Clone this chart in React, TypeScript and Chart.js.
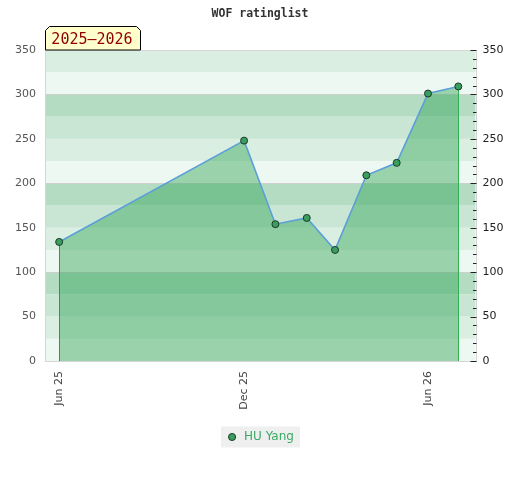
import React, { useEffect, useRef } from "react";
import { Chart, registerables } from "chart.js";

Chart.register(...registerables);

const TITLE = "WOF ratinglist";
const SEASON_LABEL = "2025–2026";
const SERIES_NAME = "HU Yang";
const DATES = [
  "2025-06-01",
  "2025-12-01",
  "2026-01-01",
  "2026-02-01",
  "2026-03-01",
  "2026-04-01",
  "2026-05-01",
  "2026-06-01",
  "2026-07-01",
];
const RATINGS = [134, 248, 154, 161, 125, 209, 223, 301, 309];
const TICK_DATES = ["2025-06-01", "2025-12-01", "2026-06-01"];
const TICK_LABELS = ["Jun 25", "Dec 25", "Jun 26"];
const X_RANGE = ["2025-05-18", "2026-07-18"];
const Y_MIN = 0;
const Y_MAX = 350;
const Y_STEP = 50;
const MINOR_STEP = 10;
const BAND_STEP = 25;
const BAND_COLORS = ["#eef8f2", "#dbeee2", "#c8e6d3", "#b3dcc3"];

const FILL_COLOR = "rgba(50,163,86,0.45)";
const LINE_COLOR = "#5b9fd8";
const POINT_COLOR = "#3a9e5f";
const POINT_BORDER = "#1b3b25";
const LEGEND_COLOR = "#3aaa64";

const BASE = Date.UTC(2025, 5, 1);
function dayOf(s: string): number {
  const [y, m, d] = s.split("-").map(Number);
  return Math.round((Date.UTC(y, m - 1, d) - BASE) / 86400000);
}

const decorPlugin = {
  id: "decor",
  beforeDraw(chart: any) {
    const { ctx, chartArea } = chart;
    const ys = chart.scales.y;
    ctx.save();
    for (let v = Y_MIN; v < Y_MAX; v += BAND_STEP) {
      const idx = Math.round(v / BAND_STEP) % BAND_COLORS.length;
      const yTop = ys.getPixelForValue(v + BAND_STEP);
      const yBot = ys.getPixelForValue(v);
      ctx.fillStyle = BAND_COLORS[idx];
      ctx.fillRect(chartArea.left, yTop, chartArea.right - chartArea.left, yBot - yTop);
    }
    const lg = chart.legend;
    if (lg && lg.legendHitBoxes && lg.legendHitBoxes[0]) {
      const hb = lg.legendHitBoxes[0];
      ctx.fillStyle = "#efefef";
      ctx.fillRect(hb.left - 5, hb.top - 4.5, hb.width + 11, hb.height + 9);
    }
    ctx.restore();
  },
  beforeDatasetDraw(chart: any, args: any) {
    if (args.index !== 0) return;
    const { ctx } = chart;
    const meta = chart.getDatasetMeta(0);
    const ys = chart.scales.y;
    const base = ys.getPixelForValue(0);
    const first = meta.data[0];
    const last = meta.data[meta.data.length - 1];
    ctx.save();
    ctx.lineWidth = 1;
    ctx.strokeStyle = "#3c8f55";
    ctx.beginPath();
    ctx.moveTo(Math.round(first.x) + 0.5, first.y);
    ctx.lineTo(Math.round(first.x) + 0.5, base);
    ctx.stroke();
    ctx.strokeStyle = "#30b050";
    ctx.beginPath();
    ctx.moveTo(Math.round(last.x) + 0.5, last.y);
    ctx.lineTo(Math.round(last.x) + 0.5, base);
    ctx.stroke();
    ctx.restore();
  },
  afterDraw(chart: any) {
    const { ctx, chartArea } = chart;
    const y2 = chart.scales.y2;
    const L = Math.round(chartArea.left) + 0.5;
    const R = Math.round(chartArea.right) + 0.5;
    const T = Math.round(chartArea.top) + 0.5;
    const B = Math.round(chartArea.bottom) + 0.5;
    ctx.save();
    ctx.lineWidth = 1;
    ctx.strokeStyle = "#d6d6d6";
    ctx.strokeRect(L, T, R - L, B - T);
    // right-axis tick marks (inward)
    ctx.strokeStyle = "#222";
    for (let v = Y_MIN; v <= Y_MAX; v += MINOR_STEP) {
      const y = Math.round(y2.getPixelForValue(v)) + 0.5;
      const len = v % Y_STEP === 0 ? 6 : 3.5;
      ctx.beginPath();
      ctx.moveTo(R - len, y);
      ctx.lineTo(R, y);
      ctx.stroke();
    }
    // season badge
    const bl = L;
    const br = L + 95;
    const bb = T - 0.5;
    const bt = T - 24;
    const c = 4;
    ctx.beginPath();
    ctx.moveTo(bl, bb);
    ctx.lineTo(bl, bt + c);
    ctx.lineTo(bl + c, bt);
    ctx.lineTo(br - c, bt);
    ctx.lineTo(br, bt + c);
    ctx.lineTo(br, bb);
    ctx.closePath();
    ctx.fillStyle = "#ffffcc";
    ctx.fill();
    ctx.strokeStyle = "#000";
    ctx.stroke();
    ctx.fillStyle = "#8f0000";
    ctx.font = "15px 'DejaVu Sans Mono'";
    ctx.textAlign = "center";
    ctx.textBaseline = "middle";
    ctx.fillText(SEASON_LABEL, (bl + br) / 2 - 1, (bt + bb) / 2 + 1.5);
    ctx.restore();
  },
};

export default function App() {
  const ref = useRef<HTMLCanvasElement | null>(null);

  useEffect(() => {
    if (!ref.current) return;
    const points = DATES.map((d, i) => ({ x: dayOf(d), y: RATINGS[i] }));
    const tickValues = TICK_DATES.map(dayOf);
    const chart = new Chart(ref.current, {
      type: "line",
      data: {
        datasets: [
          {
            label: SERIES_NAME,
            data: points,
            borderColor: LINE_COLOR,
            borderWidth: 1.6,
            backgroundColor: FILL_COLOR,
            fill: "origin",
            tension: 0,
            pointRadius: 3.5,
            pointBackgroundColor: POINT_COLOR,
            pointBorderColor: POINT_BORDER,
            pointBorderWidth: 1,
          },
        ],
      },
      options: {
        responsive: false,
        animation: false,
        layout: { padding: { left: 0, right: 0, top: 0, bottom: 27 } },
        scales: {
          x: {
            type: "linear",
            min: dayOf(X_RANGE[0]),
            max: dayOf(X_RANGE[1]),
            grid: { display: false },
            border: { display: false },
            afterBuildTicks: (scale: any) => {
              scale.ticks = tickValues.map((v) => ({ value: v }));
            },
            afterFit: (scale: any) => {
              scale.height = 60;
            },
            ticks: {
              autoSkip: false,
              minRotation: 90,
              maxRotation: 90,
              padding: 2,
              color: "#444",
              font: { family: "DejaVu Sans", size: 11 },
              callback: (_v: any, i: number) => TICK_LABELS[i],
            },
          },
          y: {
            position: "left",
            min: Y_MIN,
            max: Y_MAX,
            border: { display: false },
            grid: {
              drawTicks: false,
              color: (c: any) =>
                c.tick && c.tick.value % 100 === 0 && c.tick.value !== Y_MIN && c.tick.value !== Y_MAX
                  ? "#cfcfcf"
                  : "rgba(0,0,0,0)",
            },
            afterFit: (scale: any) => {
              scale.width = 45;
            },
            ticks: {
              stepSize: Y_STEP,
              padding: 9,
              color: "#555",
              font: { family: "DejaVu Sans", size: 11 },
            },
          },
          y2: {
            position: "right",
            min: Y_MIN,
            max: Y_MAX,
            border: { display: false },
            grid: { display: false },
            afterFit: (scale: any) => {
              scale.width = 44.5;
            },
            ticks: {
              stepSize: Y_STEP,
              padding: -1,
              color: "#222",
              font: { family: "DejaVu Sans", size: 11 },
            },
          },
        },
        plugins: {
          title: {
            display: true,
            text: TITLE,
            color: "#333",
            font: { family: "DejaVu Sans Mono", size: 11.5, weight: "bold", lineHeight: 1.2 },
            padding: { top: 7, bottom: 29.2 },
          },
          legend: {
            position: "bottom",
            labels: {
              usePointStyle: true,
              boxHeight: 5,
              boxWidth: 12,
              padding: 10,
              color: LEGEND_COLOR,
              font: { family: "DejaVu Sans", size: 12 },
              generateLabels: () => [
                {
                  text: SERIES_NAME,
                  fillStyle: POINT_COLOR,
                  strokeStyle: POINT_BORDER,
                  lineWidth: 1,
                  pointStyle: "circle",
                  fontColor: LEGEND_COLOR,
                  datasetIndex: 0,
                  hidden: false,
                } as any,
              ],
            },
          },
          tooltip: { enabled: false },
        },
      } as any,
      plugins: [decorPlugin],
    });
    return () => chart.destroy();
  }, []);

  return (
    <div style={{ position: "absolute", left: 0, top: 0, width: 520, height: 480, background: "#fff" }}>
      <canvas ref={ref} width={520} height={480} />
    </div>
  );
}
